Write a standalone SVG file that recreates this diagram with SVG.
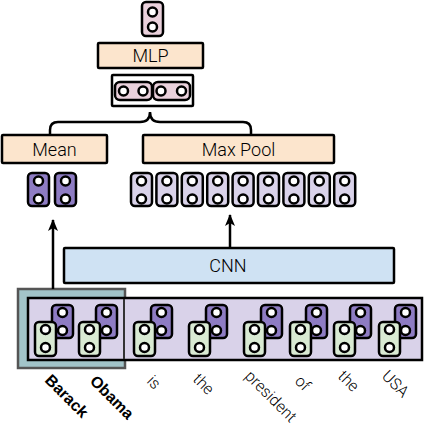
<svg xmlns="http://www.w3.org/2000/svg" width="424" height="428" viewBox="0 0 424 428">
<defs>
<style>
.box{stroke:#000;stroke-width:2.5}
.peach{fill:#fce5cd}
.vec{stroke:#000;stroke-width:2.5}
.dk{fill:#8e7cc3}
.lt{fill:#d9d2e9}
.gr{fill:#d9ead3}
.pk{fill:#ead1dc}
.dot{fill:#fff;stroke:#000;stroke-width:2.5}
.lbl{font-family:Roboto,"Liberation Sans",sans-serif;font-weight:300;font-size:18px;fill:#000;text-anchor:middle}
.word{font-family:Roboto,"Liberation Sans",sans-serif;font-weight:300;font-size:16px;fill:#000}
.bold{font-family:"Liberation Sans",Arial,sans-serif;font-weight:bold;font-size:16px;fill:#000}
.line{fill:none;stroke:#000;stroke-width:2.5}
</style>
<marker id="arr" markerUnits="userSpaceOnUse" markerWidth="12" markerHeight="12" viewBox="0 0 12 12" refX="11" refY="6" orient="auto">
<path d="M0,1 L12,6 L0,11 L3,6 z" fill="#000"/>
</marker>
</defs>

<g id="output">
<rect class="vec pk" x="142" y="2" width="21" height="34" rx="4"/>
<circle class="dot" cx="152.5" cy="12" r="4.5"/>
<circle class="dot" cx="152.5" cy="27" r="4.5"/>
</g>

<g id="mlp">
<rect class="box peach" x="98" y="43" width="105" height="25" rx="1"/>
<text class="lbl" x="150.5" y="62">MLP</text>
</g>

<g id="concat">
<rect class="box" fill="#fff" x="112" y="75" width="81" height="31" rx="1"/>
<rect class="vec pk" x="115" y="82" width="37" height="18" rx="5"/>
<rect class="vec pk" x="153" y="82" width="37" height="18" rx="5"/>
<circle class="dot" cx="123.5" cy="91" r="4.5"/>
<circle class="dot" cx="143" cy="91" r="4.5"/>
<circle class="dot" cx="161" cy="91" r="4.5"/>
<circle class="dot" cx="181.5" cy="91" r="4.5"/>
</g>

<g id="mean">
<rect class="box peach" x="2" y="135" width="105" height="28" rx="1"/>
<text class="lbl" x="54.5" y="156">Mean</text>
</g>

<g id="maxpool">
<rect class="box peach" x="143" y="135" width="191" height="28" rx="1"/>
<text class="lbl" x="238.5" y="156">Max Pool</text>
</g>

<g id="mean-vectors">
<rect class="vec dk" x="28" y="173" width="21" height="33" rx="4"/>
<circle class="dot" cx="38.5" cy="181" r="4.5"/><circle class="dot" cx="38.5" cy="199" r="4.5"/>
<rect class="vec dk" x="55" y="173" width="21" height="33" rx="4"/>
<circle class="dot" cx="65.5" cy="181" r="4.5"/><circle class="dot" cx="65.5" cy="199" r="4.5"/>
</g>

<g id="cnn-vectors">
<rect class="vec lt" x="131" y="173" width="21" height="33" rx="4"/>
<circle class="dot" cx="141.5" cy="181" r="4.5"/><circle class="dot" cx="141.5" cy="199" r="4.5"/>
<rect class="vec lt" x="156.4" y="173" width="21" height="33" rx="4"/>
<circle class="dot" cx="166.9" cy="181" r="4.5"/><circle class="dot" cx="166.9" cy="199" r="4.5"/>
<rect class="vec lt" x="181.8" y="173" width="21" height="33" rx="4"/>
<circle class="dot" cx="192.3" cy="181" r="4.5"/><circle class="dot" cx="192.3" cy="199" r="4.5"/>
<rect class="vec lt" x="207.2" y="173" width="21" height="33" rx="4"/>
<circle class="dot" cx="217.7" cy="181" r="4.5"/><circle class="dot" cx="217.7" cy="199" r="4.5"/>
<rect class="vec lt" x="232.6" y="173" width="21" height="33" rx="4"/>
<circle class="dot" cx="243.1" cy="181" r="4.5"/><circle class="dot" cx="243.1" cy="199" r="4.5"/>
<rect class="vec lt" x="258" y="173" width="21" height="33" rx="4"/>
<circle class="dot" cx="268.5" cy="181" r="4.5"/><circle class="dot" cx="268.5" cy="199" r="4.5"/>
<rect class="vec lt" x="283.4" y="173" width="21" height="33" rx="4"/>
<circle class="dot" cx="293.9" cy="181" r="4.5"/><circle class="dot" cx="293.9" cy="199" r="4.5"/>
<rect class="vec lt" x="308.8" y="173" width="21" height="33" rx="4"/>
<circle class="dot" cx="319.3" cy="181" r="4.5"/><circle class="dot" cx="319.3" cy="199" r="4.5"/>
<rect class="vec lt" x="334.2" y="173" width="21" height="33" rx="4"/>
<circle class="dot" cx="344.7" cy="181" r="4.5"/><circle class="dot" cx="344.7" cy="199" r="4.5"/>
</g>

<g id="cnn">
<rect class="box" fill="#cfe2f3" x="64" y="248" width="330" height="35" rx="1"/>
<text class="lbl" x="228" y="272">CNN</text>
</g>

<g id="entity">
<rect x="18" y="289" width="107" height="79" fill="#a2c4c9" stroke="#555" stroke-width="2.5"/>
</g>

<g id="sentence">
<rect class="box lt" x="28" y="298" width="394" height="62"/>
<line x1="124" y1="299" x2="124" y2="359" stroke="#333" stroke-width="2"/>
<g id="w-barack">
<rect class="vec dk" x="52" y="305" width="21" height="33" rx="4"/>
<circle class="dot" cx="62.5" cy="312.5" r="4.5"/><circle class="dot" cx="62.5" cy="330.5" r="4.5"/>
<rect class="vec gr" x="35" y="322" width="21" height="34" rx="4"/>
<circle class="dot" cx="45.5" cy="329.5" r="4.5"/><circle class="dot" cx="45.5" cy="347.5" r="4.5"/>
</g>
<g id="w-obama">
<rect class="vec dk" x="96" y="305" width="21" height="33" rx="4"/>
<circle class="dot" cx="106.5" cy="312.5" r="4.5"/><circle class="dot" cx="106.5" cy="330.5" r="4.5"/>
<rect class="vec gr" x="79" y="322" width="21" height="34" rx="4"/>
<circle class="dot" cx="89.5" cy="329.5" r="4.5"/><circle class="dot" cx="89.5" cy="347.5" r="4.5"/>
</g>
<g id="w-is">
<rect class="vec dk" x="151" y="305" width="21" height="33" rx="4"/>
<circle class="dot" cx="161.5" cy="312.5" r="4.5"/><circle class="dot" cx="161.5" cy="330.5" r="4.5"/>
<rect class="vec gr" x="134" y="322" width="21" height="34" rx="4"/>
<circle class="dot" cx="144.5" cy="329.5" r="4.5"/><circle class="dot" cx="144.5" cy="347.5" r="4.5"/>
</g>
<g id="w-the1">
<rect class="vec dk" x="206" y="305" width="21" height="33" rx="4"/>
<circle class="dot" cx="216.5" cy="312.5" r="4.5"/><circle class="dot" cx="216.5" cy="330.5" r="4.5"/>
<rect class="vec gr" x="189" y="322" width="21" height="34" rx="4"/>
<circle class="dot" cx="199.5" cy="329.5" r="4.5"/><circle class="dot" cx="199.5" cy="347.5" r="4.5"/>
</g>
<g id="w-president">
<rect class="vec dk" x="261" y="305" width="21" height="33" rx="4"/>
<circle class="dot" cx="271.5" cy="312.5" r="4.5"/><circle class="dot" cx="271.5" cy="330.5" r="4.5"/>
<rect class="vec gr" x="244" y="322" width="21" height="34" rx="4"/>
<circle class="dot" cx="254.5" cy="329.5" r="4.5"/><circle class="dot" cx="254.5" cy="347.5" r="4.5"/>
</g>
<g id="w-of">
<rect class="vec dk" x="306" y="305" width="21" height="33" rx="4"/>
<circle class="dot" cx="316.5" cy="312.5" r="4.5"/><circle class="dot" cx="316.5" cy="330.5" r="4.5"/>
<rect class="vec gr" x="290" y="322" width="21" height="34" rx="4"/>
<circle class="dot" cx="300.5" cy="329.5" r="4.5"/><circle class="dot" cx="300.5" cy="347.5" r="4.5"/>
</g>
<g id="w-the2">
<rect class="vec dk" x="350" y="305" width="21" height="33" rx="4"/>
<circle class="dot" cx="360.5" cy="312.5" r="4.5"/><circle class="dot" cx="360.5" cy="330.5" r="4.5"/>
<rect class="vec gr" x="334" y="322" width="21" height="34" rx="4"/>
<circle class="dot" cx="344.5" cy="329.5" r="4.5"/><circle class="dot" cx="344.5" cy="347.5" r="4.5"/>
</g>
<g id="w-usa">
<rect class="vec dk" x="395" y="305" width="21" height="33" rx="4"/>
<circle class="dot" cx="405.5" cy="312.5" r="4.5"/><circle class="dot" cx="405.5" cy="330.5" r="4.5"/>
<rect class="vec gr" x="379" y="322" width="21" height="34" rx="4"/>
<circle class="dot" cx="389.5" cy="329.5" r="4.5"/><circle class="dot" cx="389.5" cy="347.5" r="4.5"/>
</g>
</g>

<g id="labels">
<g transform="translate(44 381) rotate(45)"><text class="bold" x="0" y="0">Barack</text></g>
<g transform="translate(89 382) rotate(45)"><text class="bold" x="0" y="0">Obama</text></g>
<g transform="translate(146 382) rotate(45)"><text class="word" x="0" y="0">is</text></g>
<g transform="translate(192 380) rotate(45)"><text class="word" x="0" y="0">the</text></g>
<g transform="translate(244 377) rotate(45)"><text class="word" x="0" y="0">president</text></g>
<g transform="translate(294 382) rotate(45)"><text class="word" x="0" y="0">of</text></g>
<g transform="translate(337 377) rotate(45)"><text class="word" x="0" y="0">the</text></g>
<g transform="translate(381 377) rotate(45)"><text class="word" x="0" y="0">USA</text></g>
</g>

<g id="connectors">
<path class="line" d="M50,135 L50,130 Q50,122 58,122 L140,122 Q150,122 150,112 Q150,122 160,122 L243,122 Q251,122 251,130 L251,135"/>
<line class="line" x1="53" y1="289" x2="53" y2="220" marker-end="url(#arr)"/>
<line class="line" x1="230" y1="247" x2="230" y2="215" marker-end="url(#arr)"/>
</g>
</svg>
